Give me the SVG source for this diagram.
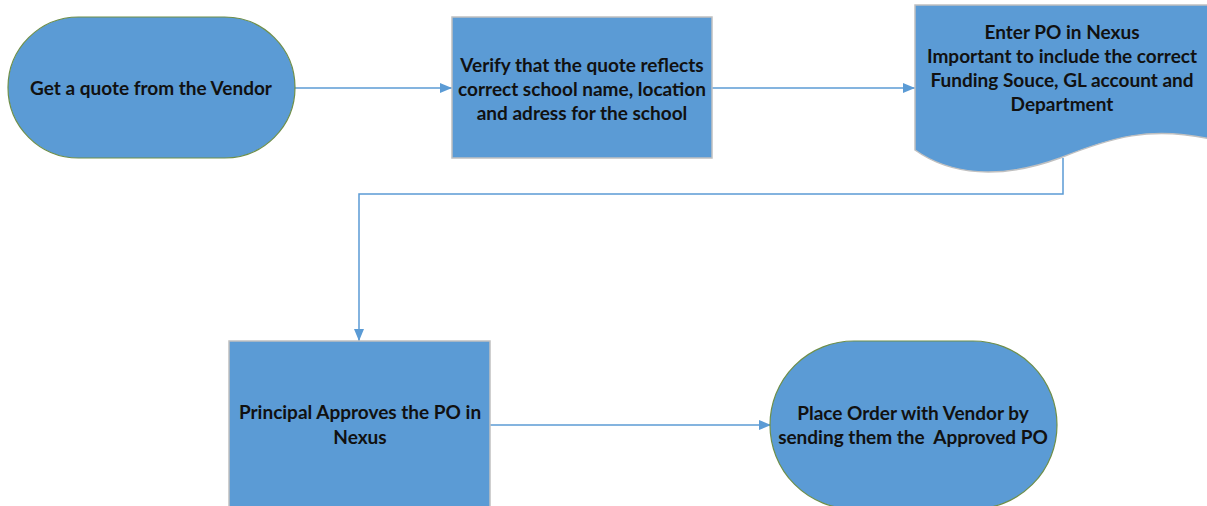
<svg xmlns="http://www.w3.org/2000/svg" width="1207" height="506" viewBox="0 0 1207 506">
<style>
.fill{fill:#5B9BD5}
.term{stroke:#6F8F4A;stroke-width:1.2}
.box{stroke:#C0C0C0;stroke-width:1.5}
.lbl{font-family:Lato,"Liberation Sans",Arial,sans-serif;font-weight:bold;font-size:19px;fill:#111;text-anchor:middle;white-space:pre}
.conn{fill:none;stroke:#5B9BD5;stroke-width:1.5}
</style>
<defs>
<marker id="ah" viewBox="0 0 12 10" refX="12" refY="5" markerWidth="12" markerHeight="10" markerUnits="userSpaceOnUse" orient="auto">
<path d="M0,0 L12,5 L0,10 Z" fill="#5B9BD5"/>
</marker>
</defs>
<rect width="1207" height="506" fill="#fff"/>
<g id="connectors">
<line class="conn" x1="295" y1="88" x2="452" y2="88" marker-end="url(#ah)"/>
<line class="conn" x1="712" y1="88" x2="915" y2="88" marker-end="url(#ah)"/>
<polyline class="conn" points="1063,158 1063,194 359,194 359,341" marker-end="url(#ah)"/>
<line class="conn" x1="490" y1="425" x2="771" y2="425" marker-end="url(#ah)"/>
</g>
<g id="node1">
<rect class="fill term" x="8" y="17" width="287" height="141" rx="70.5" ry="70.5"/>
<text class="lbl" x="151" y="95">Get a quote from the Vendor</text>
</g>
<g id="node2">
<rect class="fill box" x="452" y="17" width="260" height="141"/>
<text class="lbl" x="582" y="72">Verify that the quote reflects</text>
<text class="lbl" x="582" y="96">correct school name, location</text>
<text class="lbl" x="582" y="120">and adress for the school</text>
</g>
<g id="node3">
<path class="fill box" d="M915,5 H1215 V140 C1150,125 1110,138 1060,158 C1000,180 950,175 915,150 Z"/>
<text class="lbl" x="1062" y="39">Enter PO in Nexus</text>
<text class="lbl" x="1062" y="63">Important to include the correct</text>
<text class="lbl" x="1062" y="87">Funding Souce, GL account and</text>
<text class="lbl" x="1062" y="111">Department</text>
</g>
<g id="node4">
<rect class="fill box" x="229" y="341" width="261" height="180"/>
<text class="lbl" x="360" y="419">Principal Approves the PO in</text>
<text class="lbl" x="360" y="444">Nexus</text>
</g>
<g id="node5">
<rect class="fill term" x="770" y="341" width="287" height="168" rx="84" ry="84"/>
<text class="lbl" x="913" y="420">Place Order with Vendor by</text>
<text class="lbl" x="913" y="444" xml:space="preserve">sending them the  Approved PO</text>
</g>
</svg>
